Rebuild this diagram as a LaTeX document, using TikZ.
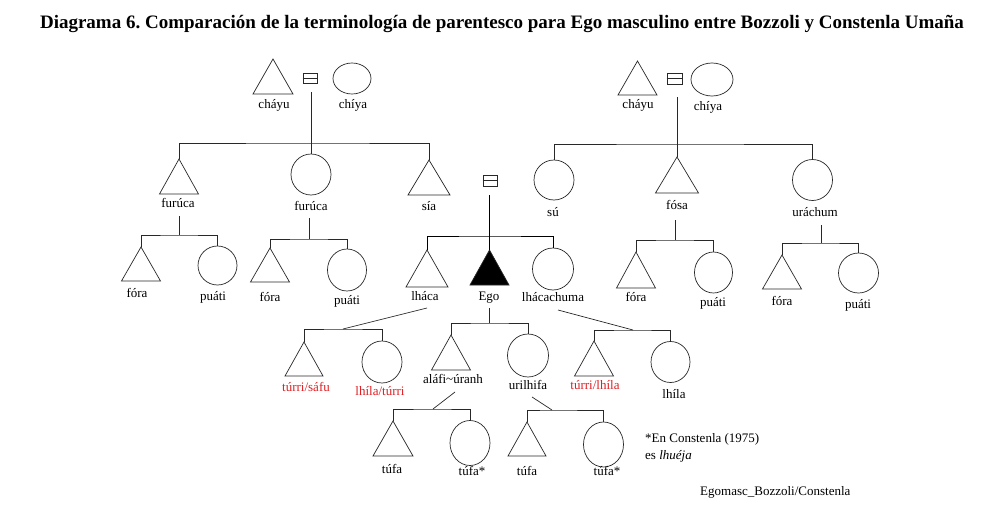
\documentclass[tikz,border=0pt]{standalone}
\usepackage{fontspec}
\setmainfont{Liberation Serif}
\usetikzlibrary{shapes.geometric}
\frenchspacing
\definecolor{kinred}{RGB}{225,30,35}
\definecolor{lineg}{RGB}{40,40,40}
\tikzset{
  ln/.style={draw=lineg, line width=0.7pt},
  egoln/.style={draw=black, line width=1.0pt},
  trishape/.style={draw=lineg, line width=0.7pt, line join=miter},
  circ/.style={ellipse, draw=lineg, line width=0.7pt, inner sep=0pt},
  eqbox/.style={rectangle, draw=lineg, line width=0.6pt, inner sep=0pt, minimum width=14pt, minimum height=10pt},
  lab/.style={font=\fontsize{13}{15}\selectfont, inner sep=0pt, text height=9pt, text depth=3pt},
  redlab/.style={lab, text=kinred},
}
% \kintri{name}{x}{y}{width}{height}{options}
\newcommand{\kintri}[6]{%
  \coordinate (#1) at (#2,#3);
  \path[trishape,#6] (#1) -- ++(-#4/2,#5) -- ++(#4,0) -- cycle;
}
\begin{document}
\begin{tikzpicture}[x=1pt,y=-1pt]
\useasboundingbox (0,0) rectangle (1002,506);
\fill[white] (0,0) rectangle (1002,506);

% title
\node[font=\fontsize{19}{22}\selectfont\bfseries, inner sep=0pt] (title) at (502,24)
  {Diagrama 6. Comparación de la terminología de parentesco para Ego masculino entre Bozzoli y Constenla Umaña};

% ---------- left grandparents ----------
\kintri{gA}{273}{59}{40}{35}{}
\node[eqbox] (eqA) at (310,78) {};
\draw[ln] (eqA.west) -- (eqA.east);
\node[circ, minimum width=38pt, minimum height=31pt] (gmA) at (352,78.5) {};
\node[lab] (lgA) at (274,105) {cháyu};
\node[lab] (lgmA) at (353,105) {chíya};
\coordinate (dA) at (311,92);
\coordinate (jA) at (311,143);
\draw[ln] (dA) -- (jA);

\kintri{fuA}{179}{159}{39}{35}{}
\node[circ, minimum width=40pt, minimum height=41pt] (fuB) at (311,174.5) {};
\kintri{sia}{429}{160}{42}{35}{}
\draw[ln] (fuA) |- (jA) -| (sia);
\draw[ln] (jA) -- (fuB.north);
\node[lab] (lfuA) at (178,204) {furúca};
\node[lab] (lfuB) at (311,207) {furúca};
\node[lab] (lsia) at (429,207) {sía};

% children of left furúca
\coordinate (dfA) at (179,216);
\coordinate (jfA) at (179,235);
\draw[ln] (dfA) -- (jfA);
\kintri{foA}{141}{247}{39}{34}{}
\node[circ, minimum width=39pt, minimum height=39pt] (puA) at (217.5,265.5) {};
\draw[ln] (foA) |- (jfA) -| (puA.north);
\node[lab] (lfoA) at (137,294) {fóra};
\node[lab] (lpuA) at (213,297) {puáti};

% children of center furúca
\coordinate (dfB) at (309,218);
\coordinate (jfB) at (309,239);
\draw[ln] (dfB) -- (jfB);
\kintri{foB}{270}{248}{39}{34}{}
\node[circ, minimum width=39pt, minimum height=42pt] (puB) at (347,270) {};
\draw[ln] (foB) |- (jfB) -| (puB.north);
\node[lab] (lfoB) at (270,298) {fóra};
\node[lab] (lpuB) at (347,301) {puáti};

% ---------- Ego generation ----------
\node[eqbox, minimum height=11pt] (eqE) at (490,180.5) {};
\draw[ln] (eqE.west) -- (eqE.east);
\coordinate (dE) at (489.5,195);
\coordinate (jE) at (489.5,236);
\kintri{lhaca}{427}{250}{42}{37}{}
\kintri{ego}{489.5}{250}{39}{35}{fill=black}
\node[circ, minimum width=41pt, minimum height=42pt] (lhch) at (553,269) {};
\draw[egoln] (dE) -- (ego);
\draw[egoln] (lhaca) |- (jE) -| (lhch.north);
\node[lab] (llhaca) at (425,297) {lháca};
\node[lab] (lego) at (489,297) {Ego};
\node[lab] (llhch) at (553,298) {lhácachuma};

% ---------- right grandparents ----------
\kintri{gB}{637.5}{61}{39}{34}{}
\node[eqbox, minimum width=15pt, minimum height=11pt] (eqB) at (674.5,78.5) {};
\draw[ln] (eqB.west) -- (eqB.east);
\node[circ, minimum width=42pt, minimum height=33pt] (gmB) at (712,79.5) {};
\node[lab] (lgB) at (638,105) {cháyu};
\node[lab] (lgmB) at (708,107) {chíya};
\coordinate (dB) at (677,97);
\coordinate (jB) at (677,144);

\node[circ, minimum width=40pt, minimum height=40pt] (su) at (554,180) {};
\kintri{fosa}{677}{157}{43}{36}{}
\node[circ, minimum width=40pt, minimum height=41pt] (urach) at (812.5,180) {};
\draw[ln] (dB) -- (fosa);
\draw[ln] (su.north) |- (jB) -| (urach.north);
\node[lab] (lsu) at (553,213) {sú};
\node[lab] (lfosa) at (677,206) {fósa};
\node[lab] (lurach) at (815,213) {uráchum};

% children of fósa
\coordinate (dfo) at (675,220);
\coordinate (jfo) at (675,240);
\draw[ln] (dfo) -- (jfo);
\kintri{foC}{636}{252}{39}{36}{}
\node[circ, minimum width=38pt, minimum height=41pt] (puC) at (713.5,272.5) {};
\draw[ln] (foC) |- (jfo) -| (puC.north);
\node[lab] (lfoC) at (636,298) {fóra};
\node[lab] (lpuC) at (713,303) {puáti};

% children of uráchum
\coordinate (dur) at (821,225);
\coordinate (jur) at (821,243);
\draw[ln] (dur) -- (jur);
\kintri{foD}{782}{255}{39}{34}{}
\node[circ, minimum width=40pt, minimum height=40pt] (puD) at (858.5,273) {};
\draw[ln] (foD) |- (jur) -| (puD.north);
\node[lab] (lfoD) at (782,302) {fóra};
\node[lab] (lpuD) at (858,305) {puáti};

% ---------- children of lháca ----------
\coordinate (dlh) at (427,308);
\coordinate (jlh) at (343,329);
\draw[ln] (dlh) -- (jlh);
\kintri{tsaf}{304}{342}{38}{34}{}
\node[circ, minimum width=40pt, minimum height=42pt] (lhtu) at (382,362) {};
\draw[ln] (tsaf) |- (jlh) -| (lhtu.north);
\node[redlab] (ltsaf) at (306,388) {túrri/sáfu};
\node[redlab] (llhtu) at (380,392) {lhíla/túrri};

% ---------- children of Ego ----------
\coordinate (deg) at (489.5,308);
\coordinate (jeg) at (489.5,323);
\draw[ln] (deg) -- (jeg);
\kintri{alafi}{451}{335}{39}{35}{}
\node[circ, minimum width=41pt, minimum height=43pt] (uril) at (528,355.5) {};
\draw[ln] (alafi) |- (jeg) -| (uril.north);
\node[lab] (lalafi) at (453,380) {aláfi\textasciitilde úranh};
\node[lab] (luril) at (528,386) {urilhifa};

% ---------- children of lhácachuma ----------
\coordinate (dlc) at (558,310);
\coordinate (jlc) at (633,330);
\draw[ln] (dlc) -- (jlc);
\kintri{tlhi}{594}{341}{39}{35}{}
\node[circ, minimum width=39pt, minimum height=41pt] (lhila) at (670.5,362) {};
\draw[ln] (tlhi) |- (jlc) -| (lhila.north);
\node[redlab] (ltlhi) at (595,386) {túrri/lhíla};
\node[lab] (llhila) at (674,395) {lhíla};

% ---------- children of aláfi ----------
\coordinate (dal) at (455,392);
\coordinate (jal) at (433,409);
\draw[ln] (dal) -- (jal);
\kintri{tufA}{393}{421}{40}{35}{}
\node[circ, minimum width=40pt, minimum height=45pt] (tufB) at (470,443) {};
\draw[ln] (tufA) |- (jal) -| (tufB.north);
\node[lab] (ltufA) at (392,470) {túfa};
\node[lab] (ltufB) at (472,472) {túfa*};

% ---------- children of urilhifa ----------
\coordinate (dur2) at (532,397);
\coordinate (jur2) at (552,410);
\draw[ln] (dur2) -- (jur2);
\kintri{tufC}{527}{422}{38}{34}{}
\node[circ, minimum width=40pt, minimum height=45pt] (tufD) at (603.5,444.5) {};
\draw[ln] (tufC) |- (jur2) -| (tufD.north);
\node[lab] (ltufC) at (527,472) {túfa};
\node[lab] (ltufD) at (607,472) {túfa*};

% ---------- notes ----------
\node[lab, anchor=west] (note1) at (645,439) {*En Constenla (1975)};
\node[lab, anchor=west] (note2) at (645,456) {es \textit{lhuéja}};
\node[lab, anchor=west] (src) at (700,492) {Egomasc\_Bozzoli/Constenla};
\end{tikzpicture}
\end{document}
